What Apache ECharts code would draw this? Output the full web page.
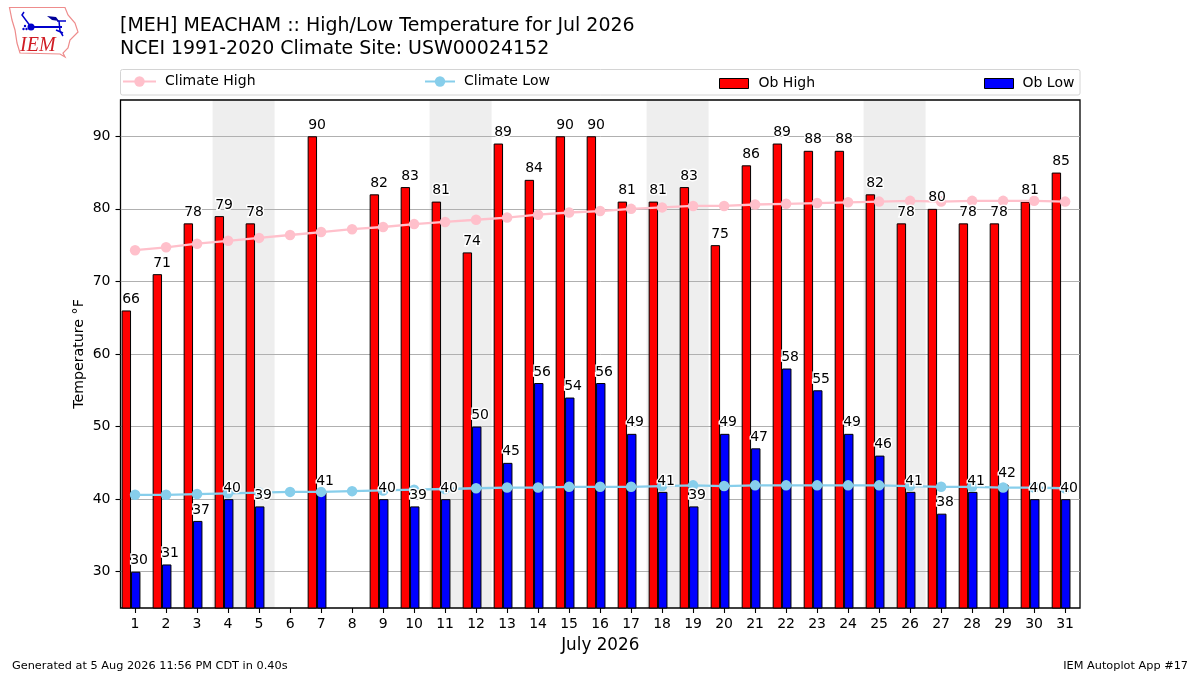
<!DOCTYPE html>
<html>
<head>
<meta charset="utf-8">
<style>html,body{margin:0;padding:0;background:#fff}#chart{width:1200px;height:675px}</style>
<script src="https://cdn.jsdelivr.net/npm/echarts@6/dist/echarts.min.js"></script>
</head>
<body>
<div id="chart"></div>
<script>
const days = [1,2,3,4,5,6,7,8,9,10,11,12,13,14,15,16,17,18,19,20,21,22,23,24,25,26,27,28,29,30,31];
const obHigh = [66,71,78,79,78,null,90,null,82,83,81,74,89,84,90,90,81,81,83,75,86,89,88,88,82,78,80,78,78,81,85];
const obLow = [30,31,37,40,39,null,41,null,40,39,40,50,45,56,54,56,49,41,39,49,47,58,55,49,46,41,38,41,42,40,40];
const climateHigh = [74.3,74.7,75.2,75.6,76,76.4,76.8,77.2,77.5,77.9,78.2,78.5,78.8,79.2,79.5,79.7,80,80.2,80.4,80.4,80.6,80.7,80.8,80.9,81,81.1,81,81.1,81.1,81.1,81];
const climateLow = [40.6,40.6,40.7,40.8,40.9,41,41,41.1,41.2,41.3,41.4,41.5,41.6,41.6,41.7,41.7,41.7,41.8,41.9,41.8,41.9,41.9,41.9,41.9,41.9,41.8,41.7,41.7,41.6,41.6,41.5];
const weekends = [[3.5,5.5],[10.5,12.5],[17.5,19.5],[24.5,26.5]];
const yTicks = [30,40,50,60,70,80,90];

const FONT = 'DejaVu Sans';
const pair = arr => days.map((d,i)=>[d,arr[i]]);
const labelStyle = (dx) => ({
  show:true, position:'top', distance:3.5, offset:[dx,0], color:'#000', opacity:1, fontFamily:FONT, fontSize:14,
  textBorderColor:'#fff', textBorderWidth:2.8,
  formatter:p=>p.value[1]
});
const labelSeries = (name,arr,dx) => ({
  type:'scatter', name, data:pair(arr).filter(p=>p[1]!==null), xAxisIndex:0, symbolSize:1,
  itemStyle:{color:'transparent',opacity:1}, z:10, silent:true, label:labelStyle(dx), animation:false, clip:false
});
const barSeries = (name,arr,color) => ({
  type:'bar', name, data:pair(arr), xAxisIndex:1, barWidth:9.4, barGap:0, z:2,
  itemStyle:{color, borderColor:'#000', borderWidth:1}, animation:false
});
const lineSeries = (name,arr,color) => ({
  type:'line', name, data:pair(arr), xAxisIndex:0, symbol:'circle', symbolSize:10.5, showSymbol:true,
  itemStyle:{color}, lineStyle:{color,width:2.3}, z:5, animation:false
});
const legendItem = (name,left,w,h,pad) => ({
  data:[name], left, top:75, itemWidth:w, itemHeight:h, orient:'horizontal', padding:0,
  textStyle:{color:'#000',fontFamily:FONT,fontSize:14,padding:[0,0,0,pad]},
  selectedMode:false
});

const option = {
  backgroundColor:'#fff',
  animation:false,
  textStyle:{fontFamily:FONT},
  title:{
    text:'[MEH] MEACHAM :: High/Low Temperature for Jul 2026\nNCEI 1991-2020 Climate Site: USW00024152',
    left:120, top:14, padding:0,
    textStyle:{fontFamily:FONT,fontWeight:'normal',fontSize:18.97,lineHeight:23.5,color:'#000'}
  },
  legend:[
    Object.assign(legendItem('Climate High',122,33,13,4),{top:74.5}),
    Object.assign(legendItem('Climate Low',424,30,13,4),{top:74.5}),
    Object.assign(legendItem('Ob High',719,29,10,5),{itemStyle:{borderColor:'#000',borderWidth:1},icon:'rect',top:76.5}),
    Object.assign(legendItem('Ob Low',984,29,10,4),{itemStyle:{borderColor:'#000',borderWidth:1},icon:'rect',top:76.5})
  ],
  grid:{left:120.5,top:100,width:959.5,height:508,show:true,borderColor:'#000',borderWidth:1.3,backgroundColor:'transparent',containLabel:false},
  xAxis:[
    {type:'value',min:0.53,max:31.48,
      name:'July 2026',nameLocation:'middle',nameGap:29,nameMoveOverlap:false,
      nameTextStyle:{fontFamily:FONT,fontSize:16.8,color:'#000'},
      axisLine:{show:false},splitLine:{show:false},
      axisTick:{show:true,length:5,lineStyle:{color:'#000',width:1.1},customValues:days},
      axisLabel:{color:'#000',fontFamily:FONT,fontSize:14,margin:9,customValues:days}
    },
    {type:'value',min:0.53+0.13,max:31.48+0.13,show:false}
  ],
  yAxis:{type:'value',min:25,max:95,
    name:'Temperature °F',nameLocation:'middle',nameGap:34,nameMoveOverlap:false,
    nameTextStyle:{fontFamily:FONT,fontSize:14.2,color:'#000'},
    axisLine:{show:false},
    axisTick:{show:true,length:5,lineStyle:{color:'#000',width:1.1},customValues:yTicks},
    axisLabel:{color:'#000',fontFamily:FONT,fontSize:14,margin:10,customValues:yTicks},
    splitLine:{show:true,lineStyle:{color:'#b0b0b0',width:1}}
  },
  series:[
    {type:'line',name:'shade',data:[],xAxisIndex:0,z:-1,silent:true,
      markArea:{silent:true,z:-1,itemStyle:{color:'#eeeeee'},data:weekends.map(w=>[{xAxis:w[0]},{xAxis:w[1]}])}},
    barSeries('Ob High',obHigh,'#ff0000'),
    barSeries('Ob Low',obLow,'#0000ff'),
    lineSeries('Climate High',climateHigh,'#ffc0cb'),
    lineSeries('Climate Low',climateLow,'#87ceeb'),
    labelSeries('hiLabels',obHigh,-4),
    labelSeries('loLabels',obLow,4)
  ],
  graphic:[
    {type:'rect',z:-5,shape:{x:120.5,y:69.5,width:959.5,height:25.5,r:2},style:{fill:'#fff',stroke:'#d4d4d4',lineWidth:1}},
    {type:'text',left:12,top:660.5,style:{text:'Generated at 5 Aug 2026 11:56 PM CDT in 0.40s',font:'11.3px "DejaVu Sans"',fill:'#000'}},
    {type:'text',right:12,top:660.5,style:{text:'IEM Autoplot App #17',font:'11.3px "DejaVu Sans"',fill:'#000',textAlign:'right'}},
    {type:'polygon',shape:{points:[[9.5,7.5],[65,7.5],[68,15],[75,23],[78,32],[70,40],[68,48],[63,53],[65,57],[60,54],[20,53],[17,43],[15,30],[12,20]]},style:{fill:'#fff',stroke:'#ee8c8c',lineWidth:1.2}},
    {type:'text',left:20,top:36,style:{text:'IEM',font:'italic 20px "Liberation Serif"',fill:'#d01c24'}},
    {type:'circle',shape:{cx:31,cy:27,r:3.5},style:{fill:'#0000cc'}},
    {type:'polyline',shape:{points:[[31,27],[62,27]]},style:{stroke:'#0000cc',lineWidth:2,fill:null}},
    {type:'polyline',shape:{points:[[31,27],[22,15],[24,12]]},style:{stroke:'#0000cc',lineWidth:1.5,fill:null}},
    {type:'polyline',shape:{points:[[57,21],[66,21]]},style:{stroke:'#0000cc',lineWidth:1.5,fill:null}},
    {type:'polygon',shape:{points:[[47,16],[56,17],[59,21],[52,20]]},style:{fill:'#000099'}},
    {type:'polyline',shape:{points:[[59,21],[60,31],[63,36]]},style:{stroke:'#0000cc',lineWidth:1.5,fill:null}},
    {type:'polyline',shape:{points:[[56,30],[63,33]]},style:{stroke:'#0000cc',lineWidth:1.5,fill:null}},
    {type:'circle',shape:{cx:25,cy:26,r:1.2},style:{fill:'#0000cc'}},
    {type:'circle',shape:{cx:23.5,cy:29,r:1.2},style:{fill:'#0000cc'}},
    {type:'circle',shape:{cx:26.5,cy:29,r:1.2},style:{fill:'#0000cc'}}
  ]
};
echarts.init(document.getElementById('chart'),null,{renderer:'canvas'}).setOption(option);
</script>
</body>
</html>
